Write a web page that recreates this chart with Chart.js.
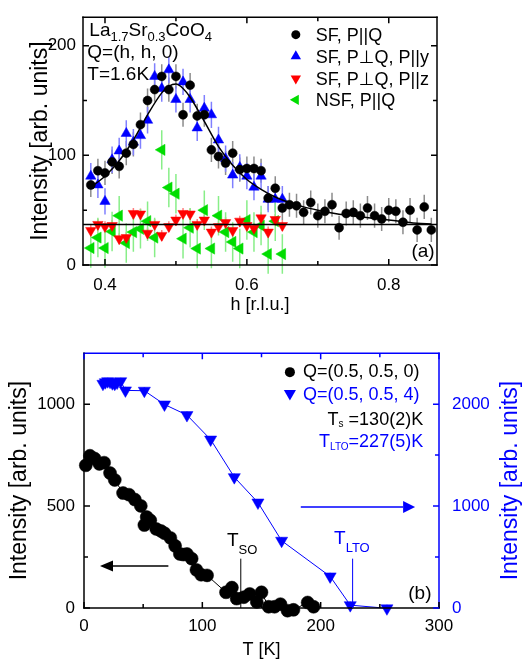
<!DOCTYPE html>
<html>
<head>
<meta charset="utf-8">
<title>La1.7Sr0.3CoO4</title>
<script src="https://cdn.jsdelivr.net/npm/chart.js@4.4.1/dist/chart.umd.min.js"></script>
<style>
  body { margin: 0; background: #fff; }
  #page { position: relative; width: 524px; height: 666px; }
  #chartA { position: absolute; left: 0; top: 0; }
  #chartB { position: absolute; left: 0; top: 330px; }
</style>
</head>
<body>
<div id="page">
  <canvas id="chartA" width="524" height="330"></canvas>
  <canvas id="chartB" width="524" height="336"></canvas>
</div>
<script>
const FONT = '"Liberation Sans", Arial, "DejaVu Sans", sans-serif';
Chart.defaults.font.family = FONT;
Chart.defaults.color = '#000';

// ---- panel (a): Q=(h,h,0), T=1.6K ----
const hMin = 0.369, hMax = 0.868;
const xTicksA = [0.4, 0.6, 0.8];
const xMinorA = [0.5, 0.7];
const yTicksA = [0, 100, 200];
const yMinorA = [50, 150];

const hBlack = [0.38,0.39,0.40,0.41,0.42,0.43,0.44,0.45,0.46,0.47,0.48,0.49,0.50,0.51,0.52,0.53,0.54,0.55,0.56,0.57,0.58,0.59,0.60,0.61,0.62,0.63,0.64,0.65,0.66,0.67,0.68,0.69,0.70,0.71,0.72,0.73,0.74,0.75,0.76,0.77,0.78,0.79,0.80,0.81,0.82,0.83,0.84,0.85,0.86];
const sfParQ = [73,86,84,94,90,102,110,128,150,160,172,160,172,137,164,136,137,105,99,93,102,87,88,88,86,61,70,52,55,54,48,57,45,49,55,34,47,48,45,52,45,42,50,49,39,50,32,53,32];

const hColor = [0.38,0.39,0.40,0.41,0.42,0.43,0.44,0.45,0.46,0.47,0.48,0.49,0.50,0.51,0.52,0.53,0.54,0.55,0.56,0.57,0.58,0.59,0.60,0.61,0.62,0.63,0.64,0.65];
const sfPerpY = [81,73,58,96,104,120,112,118,132,172,161,178,151,167,151,125,143,137,114,97,82,89,81,71,81,60,60,60];
const sfPerpZ = [31.5,37,35,36,24,25,47,46.5,29,37,27,35,41,47,46.5,37,41,30,35,38.7,31.5,40,36,33.5,43,30,41.5,36];
const nsfParQ = [15.5,25,15.5,30.5,45,20,30,33,40,25,105,70.6,65,24,34,15,50,15,45,30,21,15,41,30,36,10,40,10];

const errSF = 11, errPerpY = 12, errPerpZ = 5, errNSF = 18;

const hFit = [0.38,0.40,0.42,0.44,0.46,0.48,0.49,0.50,0.51,0.52,0.54,0.56,0.58,0.60,0.62,0.64,0.66,0.68,0.70,0.72,0.74,0.76,0.78,0.80,0.82,0.84,0.86];
const fitY = [71,81,95,114,137,157,163,165,161,153,131,108,91,78,69,62,57,53,50,47.5,45.5,44,42.5,41,39.5,38,37.5];
const bgLevel = 37;

// ---- panel (b): temperature dependence ----
const xTicksB = [0, 100, 200, 300];
const xMinorB = [50, 150, 250];
const yTicksB = [0, 500, 1000];
const yMinorB = [250, 750];
const y2TicksB = [0, 1000, 2000];
const y2MinorB = [500, 1500];

const tempSO = [1.5,5,9,13,17,22,26,33,38,43,48,51,53,56,61,65,68,73,77,81,84,87,91,95,99,104,120,125,129,135,140,146,150,156,161,166,172,177,189,194];
const intSO = [700,747,733,707,713,662,628,564,556,532,501,407,446,430,388,378,367,344,305,265,262,265,242,187,163,160,77,100,46,53,69,30,77,6,6,19,-13,-9,27,6];

const tempLTO = [16,18,20,22,24,26,28,31,35,51,68,87,107,127,147,167,208,225,256];
const intLTO = [2200,2215,2225,2220,2205,2200,2212,2225,2135,2132,1997,1893,1653,1284,1035,660,310,28,-3];
const errLTO = 35;

const pts = (xs, ys) => xs.map((x, i) => ({ x: x, y: ys[i] }));

// ---- drawing helpers ----
function frame(ctx, ca, c) { // top, right, bottom, left
  ctx.save();
  ctx.lineWidth = 1.5;
  ctx.lineCap = 'square';
  const seg = (col, x1, y1, x2, y2) => {
    ctx.strokeStyle = col;
    ctx.beginPath(); ctx.moveTo(x1, y1); ctx.lineTo(x2, y2); ctx.stroke();
  };
  seg(c[0], ca.left, ca.top, ca.right, ca.top);
  seg(c[1], ca.right, ca.top, ca.right, ca.bottom);
  seg(c[2], ca.left, ca.bottom, ca.right, ca.bottom);
  seg(c[3], ca.left, ca.top, ca.left, ca.bottom);
  ctx.restore();
}

function innerTicks(chart, scaleId, values, len, side, color) {
  const ctx = chart.ctx, ca = chart.chartArea, s = chart.scales[scaleId];
  ctx.save();
  ctx.strokeStyle = color;
  ctx.lineWidth = 1.5;
  ctx.beginPath();
  values.forEach(v => {
    const p = s.getPixelForValue(v);
    if (side === 'bottom') { ctx.moveTo(p, ca.bottom); ctx.lineTo(p, ca.bottom - len); }
    if (side === 'top') { ctx.moveTo(p, ca.top); ctx.lineTo(p, ca.top + len); }
    if (side === 'left') { ctx.moveTo(ca.left, p); ctx.lineTo(ca.left + len, p); }
    if (side === 'right') { ctx.moveTo(ca.right, p); ctx.lineTo(ca.right - len, p); }
  });
  ctx.stroke();
  ctx.restore();
}

// text with subscripts: parts = [[text, isSub], ...]
function rich(ctx, parts, x, y, color, size, subSize, subDrop, align) {
  ctx.save();
  ctx.fillStyle = color;
  ctx.textAlign = 'left';
  ctx.textBaseline = 'alphabetic';
  let w = 0;
  parts.forEach(p => { ctx.font = (p[1] ? subSize : size) + 'px ' + FONT; w += ctx.measureText(p[0]).width; });
  let cx = align === 'right' ? x - w : x;
  parts.forEach(p => {
    ctx.font = (p[1] ? subSize : size) + 'px ' + FONT;
    ctx.fillText(p[0], cx, p[1] ? y + subDrop : y);
    cx += ctx.measureText(p[0]).width;
  });
  ctx.restore();
}

function vtitle(ctx, text, x, y, color) {
  ctx.save();
  ctx.translate(x, y);
  ctx.rotate(-Math.PI / 2);
  ctx.font = '23px ' + FONT;
  ctx.fillStyle = color;
  ctx.textAlign = 'center';
  ctx.textBaseline = 'middle';
  ctx.fillText(text, 0, 0);
  ctx.restore();
}

function htitle(ctx, text, x, y, color) {
  ctx.save();
  ctx.font = '18px ' + FONT;
  ctx.fillStyle = color;
  ctx.textAlign = 'center';
  ctx.textBaseline = 'middle';
  ctx.fillText(text, x, y);
  ctx.restore();
}

function marker(ctx, style, rot, r, x, y, color) {
  ctx.save();
  ctx.fillStyle = color;
  ctx.strokeStyle = color;
  Chart.helpers.drawPoint(ctx, { pointStyle: style, rotation: rot, radius: r, borderWidth: 0 }, x, y);
  ctx.restore();
}

function arrow(ctx, x1, x2, y, color, head, hw) {
  const dir = Math.sign(x2 - x1);
  ctx.save();
  ctx.strokeStyle = color;
  ctx.fillStyle = color;
  ctx.lineWidth = 1.5;
  ctx.beginPath(); ctx.moveTo(x1, y); ctx.lineTo(x2 - dir * head, y); ctx.stroke();
  ctx.beginPath();
  ctx.moveTo(x2, y);
  ctx.lineTo(x2 - dir * head, y - hw);
  ctx.lineTo(x2 - dir * head, y + hw);
  ctx.closePath();
  ctx.fill();
  ctx.restore();
}

// error bars drawn under the markers
const errorBars = {
  id: 'errorBars',
  beforeDatasetsDraw(chart) {
    const ctx = chart.ctx;
    chart.data.datasets.forEach((ds, i) => {
      if (!ds.errBar) return;
      const meta = chart.getDatasetMeta(i);
      const xs = chart.scales[meta.xAxisID], ys = chart.scales[meta.yAxisID];
      ctx.save();
      ctx.strokeStyle = ds.errColor;
      ctx.lineWidth = 1.5;
      ctx.beginPath();
      ds.data.forEach(p => {
        const x = xs.getPixelForValue(p.x);
        ctx.moveTo(x, ys.getPixelForValue(p.y - ds.errBar));
        ctx.lineTo(x, ys.getPixelForValue(p.y + ds.errBar));
      });
      ctx.stroke();
      ctx.restore();
    });
  }
};

const decorA = {
  id: 'decorA',
  afterDatasetsDraw(chart) {
    const ctx = chart.ctx, ca = chart.chartArea;
    const X = v => chart.scales.x.getPixelForValue(v);
    const Y = v => chart.scales.y.getPixelForValue(v);
    frame(ctx, ca, ['#000', '#000', '#000', '#000']);
    innerTicks(chart, 'x', xTicksA, 6, 'bottom', '#000');
    innerTicks(chart, 'x', xMinorA, 4, 'bottom', '#000');
    innerTicks(chart, 'x', xTicksA, 6, 'top', '#000');
    innerTicks(chart, 'x', xMinorA, 4, 'top', '#000');
    innerTicks(chart, 'y', yTicksA, 6, 'left', '#000');
    innerTicks(chart, 'y', yMinorA, 4, 'left', '#000');
    innerTicks(chart, 'y', yTicksA, 6, 'right', '#000');
    innerTicks(chart, 'y', yMinorA, 4, 'right', '#000');

    rich(ctx, [['La'], ['1.7', 1], ['Sr'], ['0.3', 1], ['CoO'], ['4', 1]], X(0.3779), Y(208.6), '#000', 19, 13, 5);
    rich(ctx, [['Q=(h, h, 0)']], X(0.3751), Y(189.2), '#000', 19, 13, 5);
    rich(ctx, [['T=1.6K']], X(0.3751), Y(168.9), '#000', 19, 13, 5);

    const mx = X(0.669), tx = X(0.6972);
    marker(ctx, 'circle', 0, 4.5, mx, Y(210.1), '#000');
    marker(ctx, 'triangle', 0, 6, mx, Y(190.4), '#0000ff');
    marker(ctx, 'triangle', 180, 6, mx, Y(170.1), '#ff0000');
    marker(ctx, 'triangle', 270, 6, mx, Y(150.6), '#00dd00');
    rich(ctx, [['SF, P||Q']], tx, Y(204.3), '#000', 18, 12, 4);
    rich(ctx, [['SF, P\u22a5Q, P||y']], tx, Y(184.3), '#000', 18, 12, 4);
    rich(ctx, [['SF, P\u22a5Q, P||z']], tx, Y(164.3), '#000', 18, 12, 4);
    rich(ctx, [['NSF, P||Q']], tx, Y(144.7), '#000', 18, 12, 4);

    rich(ctx, [['(a)']], X(0.832), Y(7), '#000', 19, 13, 5);

    vtitle(ctx, 'Intensity [arb. units]', ca.left - 42, (ca.top + ca.bottom) / 2, '#000');
    htitle(ctx, 'h [r.l.u.]', (ca.left + ca.right) / 2, ca.bottom + 40, '#000');
  }
};

const decorB = {
  id: 'decorB',
  afterDatasetsDraw(chart) {
    const ctx = chart.ctx, ca = chart.chartArea;
    const X = v => chart.scales.x.getPixelForValue(v);
    const Y = v => chart.scales.y.getPixelForValue(v);
    const blue = '#0000ff';
    frame(ctx, ca, [blue, blue, '#000', '#000']);
    innerTicks(chart, 'x', xTicksB, 6, 'bottom', '#000');
    innerTicks(chart, 'x', xMinorB, 4, 'bottom', '#000');
    innerTicks(chart, 'x', xTicksB, 6, 'top', blue);
    innerTicks(chart, 'x', xMinorB, 4, 'top', blue);
    innerTicks(chart, 'y', yTicksB, 6, 'left', '#000');
    innerTicks(chart, 'y', yMinorB, 4, 'left', '#000');
    innerTicks(chart, 'y2', y2TicksB, 6, 'right', blue);
    innerTicks(chart, 'y2', y2MinorB, 4, 'right', blue);

    // legend and transition temperatures
    marker(ctx, 'circle', 0, 5, X(174), Y(1157), '#000');
    marker(ctx, 'triangle', 180, 7, X(174), Y(1052), blue);
    rich(ctx, [['Q=(0.5, 0.5, 0)']], X(185), Y(1131), '#000', 18, 12, 4);
    rich(ctx, [['Q=(0.5, 0.5, 4)']], X(185), Y(1020), blue, 18, 12, 4);
    rich(ctx, [['T'], ['s', 1], [' =130(2)K']], X(286.6), Y(898), '#000', 18, 10, 2, 'right');
    rich(ctx, [['T'], ['LTO', 1], ['=227(5)K']], X(286.6), Y(792), blue, 18, 10, 3, 'right');

    // transition marker lines
    ctx.save();
    ctx.lineWidth = 1;
    ctx.strokeStyle = '#000';
    ctx.beginPath(); ctx.moveTo(X(132.5), Y(242)); ctx.lineTo(X(132.5), Y(0)); ctx.stroke();
    ctx.strokeStyle = blue;
    ctx.beginPath(); ctx.moveTo(X(227), Y(242)); ctx.lineTo(X(227), Y(0)); ctx.stroke();
    ctx.restore();
    rich(ctx, [['T'], ['SO', 1]], X(120.8), Y(305), '#000', 19, 13, 8);
    rich(ctx, [['T'], ['LTO', 1]], X(211.3), Y(313), blue, 19, 13, 8);

    arrow(ctx, X(71.3), X(13.5), Y(206), '#000', 13, 5.5);
    arrow(ctx, X(183.2), X(279.8), Y(496), blue, 12, 6);

    rich(ctx, [['(b)']], X(274), Y(42), '#000', 19, 13, 5);

    vtitle(ctx, 'Intensity [arb. units]', ca.left - 64, (ca.top + ca.bottom) / 2, '#000');
    vtitle(ctx, 'Intensity [arb. units]', ca.right + 72, (ca.top + ca.bottom) / 2, blue);
    htitle(ctx, 'T [K]', (ca.left + ca.right) / 2, ca.bottom + 42, '#000');
  }
};

const tickFont = { size: 17 };
const noGrid = { display: false, drawTicks: false };
const plain = v => String(v);

new Chart(document.getElementById('chartA'), {
  type: 'scatter',
  data: {
    datasets: [
      { label: 'fit', data: pts(hFit, fitY), showLine: true, borderColor: '#000', borderWidth: 1.5,
        pointRadius: 0, tension: 0.4, cubicInterpolationMode: 'monotone', order: 0 },
      { label: 'background', data: [{ x: hMin, y: bgLevel }, { x: hMax, y: bgLevel }], showLine: true,
        borderColor: '#000', borderWidth: 1.5, pointRadius: 0, order: 0 },
      { label: 'SF, P||Q', data: pts(hBlack, sfParQ), pointStyle: 'circle', pointRadius: 4.5,
        pointBackgroundColor: '#000', pointBorderColor: '#000', pointBorderWidth: 0.5,
        errBar: errSF, errColor: '#8c8c8c', order: 1 },
      { label: 'SF, P\u22a5Q, P||y', data: pts(hColor, sfPerpY), pointStyle: 'triangle', pointRadius: 6,
        pointBackgroundColor: '#0000ff', pointBorderColor: '#0000ff', pointBorderWidth: 0.5,
        errBar: errPerpY, errColor: '#8080ff', order: 2 },
      { label: 'SF, P\u22a5Q, P||z', data: pts(hColor, sfPerpZ), pointStyle: 'triangle', rotation: 180, pointRadius: 6,
        pointBackgroundColor: '#ff0000', pointBorderColor: '#ff0000', pointBorderWidth: 0.5,
        errBar: errPerpZ, errColor: '#ff8080', order: 3 },
      { label: 'NSF, P||Q', data: pts(hColor, nsfParQ), pointStyle: 'triangle', rotation: 270, pointRadius: 6.5,
        pointBackgroundColor: '#00dd00', pointBorderColor: '#00dd00', pointBorderWidth: 0.5,
        errBar: errNSF, errColor: '#88ee88', order: 4 }
    ]
  },
  options: {
    responsive: false,
    animation: false,
    events: [],
    layout: { padding: { left: 0, right: 87, top: 5, bottom: 0 } },
    plugins: { legend: { display: false }, tooltip: { enabled: false } },
    scales: {
      x: {
        type: 'linear', min: hMin, max: hMax,
        grid: noGrid, border: { display: false },
        afterFit: s => { s.height = 65; },
        afterBuildTicks: s => { s.ticks = xTicksA.map(v => ({ value: v })); },
        ticks: { font: tickFont, padding: 10, maxRotation: 0, callback: v => v.toFixed(1) }
      },
      y: {
        type: 'linear', min: 0, max: 226,
        grid: noGrid, border: { display: false },
        afterFit: s => { s.width = 83; },
        afterBuildTicks: s => { s.ticks = yTicksA.map(v => ({ value: v })); },
        ticks: { font: tickFont, padding: 7, callback: plain }
      }
    }
  },
  plugins: [errorBars, decorA]
});

new Chart(document.getElementById('chartB'), {
  type: 'scatter',
  data: {
    datasets: [
      { label: 'Q=(0.5, 0.5, 0)', data: pts(tempSO, intSO), yAxisID: 'y', showLine: true,
        borderColor: '#000', borderWidth: 1, pointStyle: 'circle', pointRadius: 6.5,
        pointBackgroundColor: '#000', pointBorderColor: '#000', pointBorderWidth: 0.5, clip: false, order: 1 },
      { label: 'Q=(0.5, 0.5, 4)', data: pts(tempLTO, intLTO), yAxisID: 'y2', showLine: true,
        borderColor: '#0000ff', borderWidth: 1, pointStyle: 'triangle', rotation: 180, pointRadius: 7,
        pointBackgroundColor: '#0000ff', pointBorderColor: '#0000ff', pointBorderWidth: 0.5,
        errBar: errLTO, errColor: '#6060ff', clip: false, order: 0 }
    ]
  },
  options: {
    responsive: false,
    animation: false,
    events: [],
    layout: { padding: { left: 0, right: 0, top: 13, bottom: 0 } },
    plugins: { legend: { display: false }, tooltip: { enabled: false } },
    scales: {
      x: {
        type: 'linear', min: 0, max: 300,
        grid: noGrid, border: { display: false },
        afterFit: s => { s.height = 58; },
        afterBuildTicks: s => { s.ticks = xTicksB.map(v => ({ value: v })); },
        ticks: { font: tickFont, padding: 8, maxRotation: 0, callback: plain }
      },
      y: {
        type: 'linear', position: 'left', min: 0, max: 1250,
        grid: noGrid, border: { display: false },
        afterFit: s => { s.width = 84; },
        afterBuildTicks: s => { s.ticks = yTicksB.map(v => ({ value: v })); },
        ticks: { font: tickFont, padding: 9, callback: plain }
      },
      y2: {
        type: 'linear', position: 'right', min: 0, max: 2500,
        grid: noGrid, border: { display: false },
        afterFit: s => { s.width = 85; },
        afterBuildTicks: s => { s.ticks = y2TicksB.map(v => ({ value: v })); },
        ticks: { font: tickFont, padding: 13, color: '#0000ff', callback: plain }
      }
    }
  },
  plugins: [errorBars, decorB]
});
</script>
</body>
</html>
